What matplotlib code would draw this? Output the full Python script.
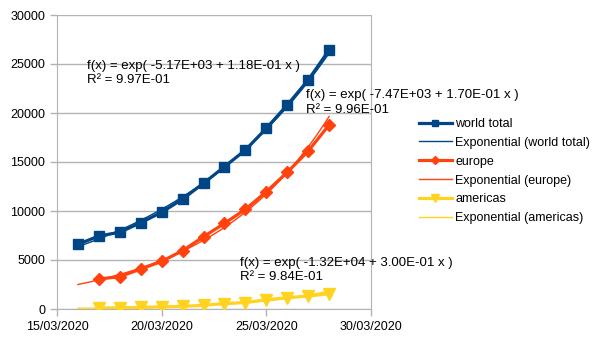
import numpy as np
import matplotlib
matplotlib.use("Agg")
import matplotlib.pyplot as plt
import matplotlib.dates as mdates
from datetime import date, timedelta

plt.rcParams["font.family"] = ["Liberation Sans", "DejaVu Sans"]

days = [date(2020, 3, 16) + timedelta(days=i) for i in range(13)]

world_total = [6600, 7450, 7830, 8810, 9870, 11220, 12830, 14520, 16220, 18440, 20820, 23370, 26430]
europe = [np.nan, 3060, 3300, 4080, 4860, 5950, 7380, 8740, 10170, 11970, 13950, 16120, 18780]
americas = [np.nan, 100, 120, 160, 220, 260, 380, 560, 660, 950, 1150, 1320, 1560]

series = [
    ("world total", world_total, "#004586", "s", 7),
    ("europe", europe, "#ff420e", "D", 6),
    ("americas", americas, "#ffd320", "v", 8),
]

# trend equation boxes: text, offset in days from 15/03, top value
equations = [
    ("f(x) = exp( -5.17E+03 + 1.18E-01 x )\nR² = 9.97E-01", 1.43, 25450),
    ("f(x) = exp( -7.47E+03 + 1.70E-01 x )\nR² = 9.96E-01", 11.9, 22400),
    ("f(x) = exp( -1.32E+04 + 3.00E-01 x )\nR² = 9.84E-01", 8.76, 5350),
]

fig = plt.figure(figsize=(6.05, 3.4), dpi=100)
ax = fig.add_axes([57 / 605, 1 - 309 / 340, (371 - 57) / 605, (309 - 15) / 340])

x = mdates.date2num(days)
xs = np.linspace(x[0], x[-1], 200)
x0 = mdates.date2num(date(2020, 3, 15))

handles = []
for name, vals, color, marker, ms in series:
    y = np.array(vals, dtype=float)
    (h,) = ax.plot(x, y, color=color, lw=2.3, marker=marker, ms=ms, zorder=3)
    # exponential trend: least squares on log values
    ok = ~np.isnan(y)
    b, a = np.polyfit(x[ok], np.log(y[ok]), 1)
    (t,) = ax.plot(xs, np.exp(a + b * xs), color=color, lw=1, zorder=4)
    handles += [h, t]

labels = ["world total", "Exponential (world total)", "europe", "Exponential (europe)",
          "americas", "Exponential (americas)"]

for txt, dx, yv in equations:
    ax.text(x0 + dx, yv, txt, fontsize=9.5, va="top", ha="left", linespacing=1.3,
            color="#000000", zorder=5)

ax.set_xlim(x0, mdates.date2num(date(2020, 3, 30)))
ax.set_ylim(0, 30000)
ax.set_yticks(range(0, 30001, 5000))
ax.xaxis.set_major_locator(mdates.DayLocator(bymonthday=[15, 20, 25, 30]))
ax.xaxis.set_major_formatter(mdates.DateFormatter("%d/%m/%Y"))

grey = "#b3b3b3"
ax.grid(axis="y", color=grey, lw=1)
ax.set_axisbelow(True)
for side in ["left", "right", "bottom"]:
    ax.spines[side].set_color(grey)
ax.spines["top"].set_visible(False)
ax.tick_params(colors=grey, labelcolor="black", labelsize=9, length=5, width=1)

fig.legend(handles, labels, loc="upper left", bbox_to_anchor=(414 / 605, 1 - 113 / 340),
           frameon=False, fontsize=9, handlelength=2.6, handletextpad=0.3,
           labelspacing=0.55, borderaxespad=0, markerscale=0.7)

fig.savefig("out.png", dpi=100)
